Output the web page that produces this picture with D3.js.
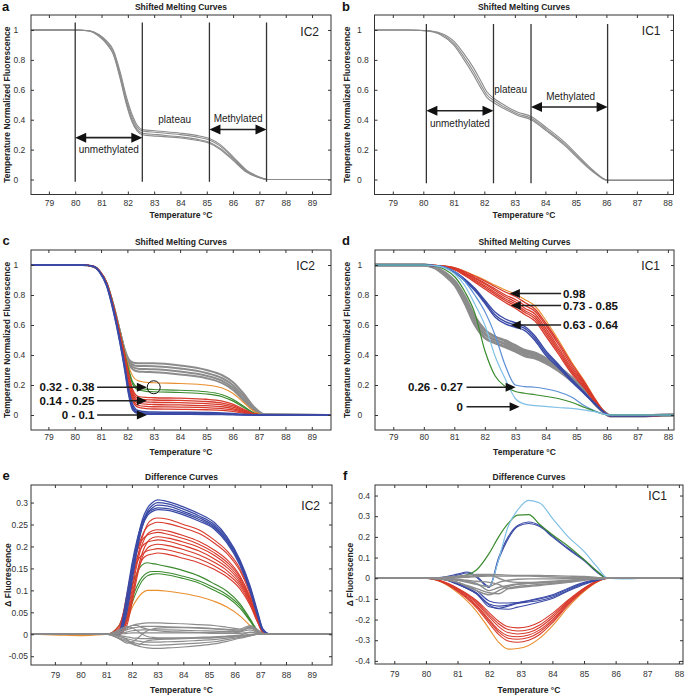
<!DOCTYPE html>
<html>
<head>
<meta charset="utf-8">
<script src="https://cdn.jsdelivr.net/npm/d3@7"></script>
<style>
  body { margin: 0; background: #fff; }
  svg { font-family: "Liberation Sans", Arial, sans-serif; }
</style>
</head>
<body>
<svg id="fig" width="685" height="695"></svg>
<script>
// ---------- tick values ----------
const xTicksIC2 = [79, 80, 81, 82, 83, 84, 85, 86, 87, 88, 89];
const xTicksIC1 = [79, 80, 81, 82, 83, 84, 85, 86, 87, 88];
const yTicksMelt = [0, 0.2, 0.4, 0.6, 0.8, 1];
const yTicksDiffIC2 = [-0.05, 0, 0.05, 0.1, 0.15, 0.2, 0.25, 0.3];
const yTicksDiffIC1 = [-0.4, -0.3, -0.2, -0.1, 0, 0.1, 0.2, 0.3, 0.4];

// ---------- panel a : IC2 reference melting curves ----------
const aTemps = [78.3, 80, 80.5, 80.9, 81.2, 81.45, 81.7, 81.95, 82.15, 82.35, 82.55, 83.1, 84, 84.6, 85.1, 85.5, 86, 86.5, 87.05, 87.3, 89.7];
const aCurve1 = [1, 1, 0.995, 0.966, 0.92, 0.855, 0.71, 0.53, 0.42, 0.35, 0.325, 0.315, 0.30, 0.285, 0.265, 0.225, 0.145, 0.06, 0.012, 0, 0];
const aCurve2 = [1, 1, 0.995, 0.962, 0.91, 0.84, 0.69, 0.51, 0.40, 0.335, 0.31, 0.30, 0.285, 0.27, 0.25, 0.21, 0.135, 0.055, 0.01, 0, 0];
const aCurve3 = [1, 1, 0.996, 0.97, 0.925, 0.865, 0.725, 0.55, 0.44, 0.365, 0.335, 0.325, 0.31, 0.295, 0.275, 0.235, 0.152, 0.065, 0.014, 0, 0];
const aCurve4 = [1, 1, 0.994, 0.958, 0.905, 0.835, 0.68, 0.5, 0.39, 0.325, 0.30, 0.29, 0.278, 0.263, 0.243, 0.203, 0.128, 0.05, 0.009, 0, 0];
const aMarks = [80, 82.55, 85.1, 87.27];

// ---------- panel b : IC1 reference melting curves ----------
const bTemps = [78.4, 79.5, 80.1, 80.55, 81.0, 81.3, 81.65, 81.87, 82.09, 82.3, 82.65, 83.08, 83.53, 84.07, 84.62, 85.17, 85.6, 86.04, 88.2];
const bCurve1 = [1, 1, 0.995, 0.975, 0.91, 0.83, 0.72, 0.64, 0.565, 0.53, 0.485, 0.44, 0.41, 0.33, 0.24, 0.13, 0.05, -0.005, -0.005];
const bCurve2 = [1, 1, 0.996, 0.98, 0.925, 0.85, 0.745, 0.665, 0.585, 0.545, 0.498, 0.452, 0.422, 0.342, 0.252, 0.14, 0.056, -0.004, -0.004];
const bCurve3 = [1, 1, 0.994, 0.97, 0.898, 0.812, 0.698, 0.618, 0.548, 0.515, 0.474, 0.43, 0.4, 0.32, 0.23, 0.122, 0.045, -0.006, -0.006];
const bMarks = [80.1, 82.3, 83.53, 86.04];

// ---------- panel c : IC2 samples ----------
const cTemps = [78.3, 80.3, 80.71, 80.96, 81.21, 81.47, 81.72, 81.91, 82.04, 82.2, 82.4, 82.7, 83, 84, 85, 85.6, 86, 86.4, 86.8, 87.2, 89.7];
const cGray1 = [1, 1, 0.99, 0.955, 0.88, 0.73, 0.555, 0.43, 0.375, 0.35, 0.345, 0.345, 0.345, 0.33, 0.30, 0.265, 0.22, 0.145, 0.055, 0.005, 0];
const cGray2 = [1, 1, 0.99, 0.955, 0.88, 0.73, 0.555, 0.425, 0.365, 0.335, 0.326, 0.326, 0.325, 0.31, 0.28, 0.245, 0.2, 0.127, 0.045, 0.004, 0];
const cGray3 = [1, 1, 0.99, 0.955, 0.88, 0.73, 0.553, 0.42, 0.355, 0.32, 0.308, 0.306, 0.305, 0.29, 0.262, 0.228, 0.183, 0.11, 0.036, 0.003, 0];
const cGray4 = [1, 1, 0.99, 0.955, 0.88, 0.728, 0.55, 0.415, 0.345, 0.305, 0.29, 0.287, 0.285, 0.27, 0.245, 0.212, 0.168, 0.098, 0.03, 0.002, 0];
const cOrange = [1, 1, 0.99, 0.955, 0.88, 0.728, 0.548, 0.41, 0.33, 0.26, 0.228, 0.218, 0.215, 0.21, 0.2, 0.18, 0.145, 0.085, 0.025, 0, 0];
const cGreen1 = [1, 1, 0.99, 0.955, 0.88, 0.726, 0.544, 0.4, 0.31, 0.22, 0.182, 0.172, 0.17, 0.165, 0.155, 0.135, 0.105, 0.06, 0.015, 0, 0];
const cGreen2 = [1, 1, 0.99, 0.955, 0.88, 0.726, 0.542, 0.395, 0.3, 0.205, 0.168, 0.158, 0.155, 0.15, 0.14, 0.122, 0.094, 0.052, 0.012, 0, 0];
const cRed1 = [1, 1, 0.99, 0.955, 0.88, 0.724, 0.54, 0.39, 0.28, 0.17, 0.125, 0.117, 0.115, 0.112, 0.105, 0.092, 0.072, 0.04, 0.009, 0, 0];
const cRed2 = [1, 1, 0.99, 0.955, 0.878, 0.722, 0.535, 0.38, 0.265, 0.155, 0.11, 0.102, 0.1, 0.097, 0.09, 0.079, 0.062, 0.034, 0.007, 0, 0];
const cRed3 = [1, 1, 0.99, 0.955, 0.878, 0.72, 0.53, 0.37, 0.25, 0.14, 0.095, 0.087, 0.085, 0.082, 0.076, 0.067, 0.052, 0.028, 0.006, 0, 0];
const cRed4 = [1, 1, 0.99, 0.954, 0.876, 0.718, 0.525, 0.36, 0.235, 0.125, 0.08, 0.072, 0.07, 0.067, 0.062, 0.055, 0.043, 0.023, 0.005, 0, 0];
const cRed5 = [1, 1, 0.99, 0.954, 0.876, 0.716, 0.52, 0.35, 0.22, 0.11, 0.065, 0.057, 0.055, 0.053, 0.049, 0.043, 0.034, 0.018, 0.004, 0, 0];
const cRed6 = [1, 1, 0.99, 0.953, 0.874, 0.714, 0.515, 0.34, 0.205, 0.095, 0.052, 0.043, 0.04, 0.038, 0.035, 0.031, 0.024, 0.013, 0.003, 0, 0];
const cBlue1 = [1, 1, 0.99, 0.952, 0.87, 0.705, 0.5, 0.32, 0.18, 0.07, 0.03, 0.022, 0.02, 0.018, 0.016, 0.013, 0.009, 0.004, 0.001, 0, 0];
const cBlue2 = [1, 1, 0.99, 0.95, 0.866, 0.698, 0.49, 0.305, 0.16, 0.05, 0.018, 0.013, 0.012, 0.011, 0.01, 0.008, 0.005, 0.002, 0, 0, 0];
const cBlue3 = [1, 1, 0.99, 0.948, 0.862, 0.69, 0.48, 0.29, 0.145, 0.035, 0.01, 0.006, 0.005, 0.005, 0.004, 0.003, 0.002, 0.001, 0, 0, 0];
const cLabels = ["0.32 - 0.38", "0.14 - 0.25", "0 - 0.1"];
const cLabelY = [0.185, 0.095, 0.0];

// ---------- panel d : IC1 samples ----------
const dTemps = [78.4, 79.5, 80.0, 80.35, 80.69, 81.02, 81.35, 81.67, 82.0, 82.34, 82.67, 83.0, 83.31, 83.65, 83.97, 84.4, 84.84, 85.28, 85.6, 85.9, 86.1, 87, 88.2];
const dGray1 = [1, 1, 1, 0.988, 0.948, 0.89, 0.785, 0.655, 0.565, 0.52, 0.495, 0.462, 0.43, 0.413, 0.38, 0.322, 0.25, 0.167, 0.085, 0.022, -0.005, -0.005, 0];
const dGray2 = [1, 1, 1, 0.985, 0.94, 0.878, 0.765, 0.63, 0.54, 0.5, 0.475, 0.443, 0.413, 0.397, 0.366, 0.31, 0.24, 0.16, 0.08, 0.02, -0.005, -0.005, 0];
const dGray3 = [1, 1, 1, 0.982, 0.932, 0.866, 0.745, 0.605, 0.515, 0.48, 0.455, 0.425, 0.395, 0.38, 0.35, 0.298, 0.23, 0.153, 0.076, 0.018, -0.005, -0.005, 0];
const dRed1 = [1, 1, 1, 0.998, 0.992, 0.98, 0.955, 0.925, 0.893, 0.855, 0.82, 0.79, 0.75, 0.705, 0.62, 0.49, 0.345, 0.215, 0.11, 0.025, -0.005, -0.005, 0];
const dRed2 = [1, 1, 1, 0.997, 0.99, 0.976, 0.948, 0.915, 0.88, 0.84, 0.8, 0.77, 0.73, 0.69, 0.605, 0.475, 0.33, 0.205, 0.104, 0.023, -0.005, -0.005, 0];
const dRed3 = [1, 1, 1, 0.997, 0.99, 0.975, 0.944, 0.91, 0.873, 0.83, 0.788, 0.755, 0.712, 0.672, 0.585, 0.455, 0.315, 0.198, 0.1, 0.022, -0.005, -0.005, 0];
const dRed4 = [1, 1, 1, 0.997, 0.988, 0.972, 0.938, 0.902, 0.862, 0.817, 0.775, 0.74, 0.697, 0.655, 0.568, 0.44, 0.302, 0.19, 0.095, 0.02, -0.005, -0.005, 0];
const dRed5 = [1, 1, 1, 0.996, 0.987, 0.97, 0.933, 0.895, 0.852, 0.806, 0.763, 0.727, 0.685, 0.64, 0.552, 0.425, 0.29, 0.182, 0.091, 0.019, -0.005, -0.005, 0];
const dRed6 = [1, 1, 1, 0.996, 0.986, 0.967, 0.928, 0.886, 0.84, 0.793, 0.75, 0.712, 0.67, 0.624, 0.535, 0.41, 0.278, 0.175, 0.087, 0.018, -0.005, -0.005, 0];
const dOrange = [1, 1, 1, 0.998, 0.993, 0.982, 0.958, 0.93, 0.9, 0.865, 0.833, 0.805, 0.77, 0.725, 0.64, 0.505, 0.355, 0.222, 0.113, 0.026, -0.005, -0.005, 0];
const dBlue1 = [1, 1, 1, 0.996, 0.985, 0.955, 0.905, 0.845, 0.765, 0.685, 0.64, 0.615, 0.59, 0.525, 0.435, 0.34, 0.24, 0.148, 0.08, 0.02, -0.005, -0.005, 0];
const dBlue2 = [1, 1, 1, 0.996, 0.984, 0.952, 0.9, 0.838, 0.755, 0.667, 0.622, 0.6, 0.577, 0.51, 0.42, 0.33, 0.232, 0.142, 0.076, 0.019, -0.005, -0.005, 0];
const dBlue3 = [1, 1, 1, 0.995, 0.982, 0.948, 0.894, 0.83, 0.745, 0.652, 0.607, 0.585, 0.563, 0.495, 0.405, 0.318, 0.224, 0.137, 0.073, 0.018, -0.005, -0.005, 0];
const dGreen = [1, 1, 1, 0.995, 0.97, 0.92, 0.82, 0.68, 0.43, 0.26, 0.19, 0.157, 0.145, 0.135, 0.125, 0.11, 0.085, 0.05, 0.025, 0.005, 0, 0, 0];
const dSky = [1, 1, 1, 0.996, 0.98, 0.94, 0.86, 0.74, 0.6, 0.39, 0.24, 0.11, 0.072, 0.062, 0.057, 0.05, 0.044, 0.033, 0.022, 0.007, 0, 0, 0];
const dMidBlue = [1, 1, 1, 0.997, 0.985, 0.955, 0.89, 0.8, 0.69, 0.53, 0.33, 0.2, 0.189, 0.185, 0.175, 0.155, 0.12, 0.06, 0.028, 0.006, 0, 0, 0];
const dLabelsRight = ["0.98", "0.73 - 0.85", "0.63 - 0.64"];
const dLabelsRightY = [0.81, 0.73, 0.6];
const dLabelsRightTip = [82.82, 82.85, 82.85];
const dLabelsLeft = ["0.26 - 0.27", "0"];
const dLabelsLeftY = [0.185, 0.055];
const dLabelsLeftTip = [83.01, 83.14];

// ---------- panel e : IC2 difference curves ----------
const eTemps = [78.1, 79.2, 80, 80.5, 81, 81.5, 81.8, 82.0, 82.2, 82.4, 82.6, 82.8, 83.0, 83.4, 84, 84.6, 85.2, 85.7, 86.2, 86.6, 86.9, 87.1, 87.4, 88, 89.8];
const eBlue1 = [0, 0, 0, 0, 0, 0, 0.078, 0.15, 0.21, 0.26, 0.287, 0.3, 0.306, 0.302, 0.29, 0.275, 0.255, 0.222, 0.17, 0.11, 0.05, 0.012, 0, 0, 0];
const eBlue2 = [0, 0, 0, 0, 0, 0, 0.06, 0.13, 0.2, 0.25, 0.28, 0.294, 0.3, 0.297, 0.285, 0.27, 0.25, 0.218, 0.167, 0.106, 0.046, 0.01, 0, 0, 0];
const eBlue3 = [0, 0, 0, 0, 0, 0, 0.05, 0.12, 0.19, 0.245, 0.275, 0.288, 0.294, 0.292, 0.28, 0.266, 0.246, 0.214, 0.164, 0.104, 0.044, 0.01, 0, 0, 0];
const eBlue4 = [0, 0, 0, 0, 0, 0.005, 0.09, 0.16, 0.215, 0.255, 0.275, 0.284, 0.288, 0.286, 0.276, 0.262, 0.243, 0.212, 0.162, 0.1, 0.042, 0.008, 0, 0, 0];
const eBlue5 = [0, 0, 0, 0, 0, 0, 0.07, 0.14, 0.2, 0.245, 0.27, 0.28, 0.284, 0.282, 0.272, 0.258, 0.24, 0.208, 0.158, 0.098, 0.04, 0.008, 0, 0, 0];
const eRed1 = [0, 0, 0, 0, 0, 0, 0.05, 0.11, 0.17, 0.22, 0.25, 0.262, 0.265, 0.262, 0.25, 0.238, 0.215, 0.19, 0.15, 0.095, 0.04, 0.008, 0, 0, 0];
const eRed2 = [0, 0, 0, 0, 0, 0.01, 0.08, 0.14, 0.19, 0.225, 0.245, 0.252, 0.255, 0.252, 0.242, 0.23, 0.208, 0.184, 0.145, 0.092, 0.038, 0.007, 0, 0, 0];
const eRed3 = [0, 0, 0, 0, 0, 0, 0.04, 0.1, 0.16, 0.205, 0.228, 0.236, 0.238, 0.235, 0.225, 0.212, 0.192, 0.17, 0.134, 0.085, 0.035, 0.006, 0, 0, 0];
const eRed4 = [0, 0, 0, 0, 0, 0.015, 0.09, 0.15, 0.19, 0.215, 0.226, 0.23, 0.232, 0.228, 0.218, 0.205, 0.186, 0.164, 0.13, 0.082, 0.033, 0.006, 0, 0, 0];
const eRed5 = [0, 0, 0, 0, 0, 0, 0.03, 0.08, 0.14, 0.185, 0.21, 0.22, 0.222, 0.219, 0.21, 0.198, 0.18, 0.158, 0.125, 0.079, 0.032, 0.005, 0, 0, 0];
const eRed6 = [0, 0, 0, 0, 0, 0.01, 0.07, 0.13, 0.175, 0.2, 0.21, 0.213, 0.215, 0.212, 0.202, 0.19, 0.172, 0.152, 0.12, 0.076, 0.03, 0.005, 0, 0, 0];
const eRed7 = [0, 0, 0, 0, 0, 0, 0.02, 0.07, 0.13, 0.175, 0.196, 0.203, 0.205, 0.202, 0.193, 0.181, 0.164, 0.145, 0.115, 0.073, 0.029, 0.005, 0, 0, 0];
const eRed8 = [0, 0, 0, 0, 0, 0.02, 0.08, 0.13, 0.165, 0.182, 0.19, 0.193, 0.195, 0.192, 0.183, 0.172, 0.156, 0.138, 0.11, 0.07, 0.028, 0.004, 0, 0, 0];
const eRed9 = [0, 0, 0, 0, 0, 0, 0.03, 0.09, 0.14, 0.17, 0.18, 0.183, 0.185, 0.182, 0.173, 0.163, 0.148, 0.131, 0.104, 0.066, 0.026, 0.004, 0, 0, 0];
const eGreen1 = [0, 0, 0, 0, 0, 0.02, 0.07, 0.11, 0.14, 0.158, 0.163, 0.161, 0.159, 0.154, 0.145, 0.133, 0.115, 0.098, 0.07, 0.035, 0.008, 0, 0, 0, 0];
const eGreen2 = [0, 0, 0, 0, 0, 0.01, 0.04, 0.08, 0.11, 0.13, 0.14, 0.143, 0.143, 0.14, 0.132, 0.122, 0.106, 0.09, 0.065, 0.032, 0.007, 0, 0, 0, 0];
const eGreen3 = [0, 0, 0, 0, 0, 0, 0.03, 0.07, 0.1, 0.122, 0.133, 0.137, 0.138, 0.135, 0.127, 0.117, 0.1, 0.085, 0.06, 0.03, 0.006, 0, 0, 0, 0];
const eOrange = [0, -0.002, -0.003, -0.002, 0, 0.005, 0.03, 0.06, 0.08, 0.094, 0.1, 0.1, 0.1, 0.098, 0.093, 0.086, 0.075, 0.062, 0.042, 0.02, 0.004, 0, 0, 0, 0];
const eGray1 = [0, 0, 0, 0, 0, 0.008, 0.015, 0.02, 0.023, 0.025, 0.026, 0.026, 0.026, 0.025, 0.024, 0.022, 0.02, 0.016, 0.012, 0.02, 0.01, 0.002, 0, 0, 0];
const eGray2 = [0, 0, 0, 0, 0, 0.004, 0.01, 0.014, 0.016, 0.018, 0.018, 0.018, 0.018, 0.017, 0.016, 0.015, 0.013, 0.011, 0.01, 0.015, 0.006, 0.001, 0, 0, 0];
const eGray3 = [0, 0, 0, 0, 0, 0.002, 0.005, 0.008, 0.009, 0.01, 0.01, 0.01, 0.01, 0.01, 0.009, 0.008, 0.007, 0.006, 0.006, 0.01, 0.004, 0, 0, 0, 0];
const eGray4 = [0, 0, 0, 0, 0, 0, 0.002, 0.003, 0.003, 0.003, 0.003, 0.003, 0.003, 0.003, 0.003, 0.003, 0.002, 0.002, 0.002, 0.004, 0.002, 0, 0, 0, 0];
const eGray5 = [0, 0, 0, 0, 0, -0.003, -0.006, -0.008, -0.009, -0.01, -0.01, -0.01, -0.01, -0.01, -0.009, -0.008, -0.007, -0.005, -0.003, 0, 0, 0, 0, 0, 0];
const eGray6 = [0, 0, 0, 0, 0, -0.005, -0.01, -0.013, -0.015, -0.017, -0.018, -0.018, -0.018, -0.017, -0.016, -0.014, -0.012, -0.009, -0.005, -0.002, 0, 0, 0, 0, 0];
const eGray7 = [0, 0, 0, 0, 0, -0.008, -0.014, -0.018, -0.021, -0.023, -0.024, -0.025, -0.025, -0.024, -0.022, -0.02, -0.017, -0.012, -0.007, -0.003, 0, 0, 0, 0, 0];
const eGray8 = [0, 0, 0, 0, 0, -0.01, -0.017, -0.022, -0.026, -0.029, -0.031, -0.032, -0.032, -0.031, -0.029, -0.026, -0.022, -0.016, -0.009, -0.004, 0, 0, 0, 0, 0];
const eGray9 = [0, 0, 0, 0, 0, -0.01, -0.02, -0.018, -0.01, 0, 0.008, 0.012, 0.014, 0.015, 0.015, 0.014, 0.012, 0.01, 0.008, 0.014, 0.006, 0, 0, 0, 0];
const eGray10 = [0, 0, 0, 0, 0, 0.01, 0.018, 0.015, 0.008, 0, -0.005, -0.007, -0.008, -0.008, -0.008, -0.007, -0.006, -0.004, -0.002, 0.005, 0.002, 0, 0, 0, 0];
const eGray11 = [0, 0, 0, 0, 0, 0.005, 0.012, 0.02, 0.02, 0.015, 0.012, 0.01, 0.008, 0.006, 0.005, 0.004, 0.004, 0.003, 0.005, 0.018, 0.008, 0, 0, 0, 0];
const eGray12 = [0, 0, 0, 0, 0, -0.004, -0.012, -0.02, -0.025, -0.02, -0.015, -0.013, -0.012, -0.011, -0.01, -0.009, -0.008, -0.006, -0.004, -0.002, 0, 0, 0, 0, 0];

// ---------- panel f : IC1 difference curves ----------
const fTemps = [78.4, 79.5, 80.0, 80.5, 81.0, 81.3, 81.6, 82.0, 82.3, 82.6, 82.9, 83.25, 83.6, 84.0, 84.5, 85.0, 85.4, 85.75, 86.2, 87, 88.13];
const fSky = [0, 0, 0, -0.002, -0.008, -0.015, -0.03, -0.04, 0.09, 0.25, 0.33, 0.377, 0.364, 0.29, 0.2, 0.13, 0.057, 0, -0.003, 0, 0];
const fGreen = [0, 0, 0, 0, 0.005, 0.016, 0.04, 0.12, 0.2, 0.265, 0.305, 0.308, 0.26, 0.21, 0.155, 0.09, 0.035, 0, 0, 0, 0];
const fBlueUp1 = [0, 0, 0, 0.005, 0.02, 0.03, 0.01, -0.04, 0.1, 0.2, 0.255, 0.272, 0.255, 0.205, 0.145, 0.09, 0.035, 0, 0, 0, 0];
const fBlueUp2 = [0, 0, 0, 0.003, 0.015, 0.025, 0.005, -0.045, 0.09, 0.19, 0.25, 0.265, 0.25, 0.2, 0.14, 0.085, 0.03, 0, 0, 0, 0];
const fBlueLow1 = [0, 0, 0, -0.005, -0.03, -0.05, -0.075, -0.138, -0.145, -0.135, -0.122, -0.115, -0.108, -0.092, -0.058, -0.027, -0.01, 0, 0, 0, 0];
const fBlueLow2 = [0, 0, 0, -0.003, -0.025, -0.045, -0.07, -0.125, -0.135, -0.13, -0.12, -0.11, -0.1, -0.085, -0.052, -0.024, -0.008, 0, 0, 0, 0];
const fBlueLow3 = [0, 0, 0, -0.004, -0.02, -0.04, -0.06, -0.11, -0.12, -0.12, -0.118, -0.108, -0.096, -0.08, -0.048, -0.02, -0.007, 0, 0, 0, 0];
const fBlueLow4 = [0, 0, 0, -0.005, -0.028, -0.05, -0.075, -0.13, -0.148, -0.15, -0.14, -0.128, -0.115, -0.098, -0.062, -0.03, -0.011, 0, 0, 0, 0];
const fRed1 = [0, 0, 0, -0.014, -0.048, -0.075, -0.108, -0.166, -0.208, -0.235, -0.24, -0.234, -0.212, -0.17, -0.105, -0.048, -0.014, 0, 0, 0, 0];
const fRed2 = [0, 0, 0, -0.015, -0.05, -0.08, -0.115, -0.177, -0.22, -0.248, -0.255, -0.249, -0.226, -0.18, -0.11, -0.05, -0.015, 0, 0, 0, 0];
const fRed3 = [0, 0, 0, -0.016, -0.053, -0.084, -0.122, -0.187, -0.234, -0.263, -0.27, -0.263, -0.238, -0.19, -0.116, -0.053, -0.015, 0, 0, 0, 0];
const fRed4 = [0, 0, 0, -0.016, -0.057, -0.09, -0.13, -0.2, -0.25, -0.278, -0.283, -0.275, -0.25, -0.2, -0.12, -0.056, -0.016, 0, 0, 0, 0];
const fRed5 = [0, 0, 0, -0.017, -0.06, -0.094, -0.136, -0.208, -0.26, -0.29, -0.295, -0.287, -0.26, -0.208, -0.125, -0.058, -0.017, 0, 0, 0, 0];
const fRed6 = [0, 0, 0, -0.018, -0.063, -0.099, -0.143, -0.218, -0.272, -0.304, -0.31, -0.3, -0.272, -0.216, -0.13, -0.06, -0.018, 0, 0, 0, 0];
const fOrange = [0, 0, 0, -0.02, -0.07, -0.11, -0.16, -0.245, -0.31, -0.343, -0.34, -0.325, -0.29, -0.23, -0.14, -0.065, -0.02, 0, 0, 0, 0];
const fGray1 = [0, 0, 0, 0.003, 0.01, 0.015, 0.018, 0.018, 0.017, 0.015, 0.014, 0.014, 0.013, 0.012, 0.01, 0.008, 0.004, 0, 0, 0, 0];
const fGray2 = [0, 0, 0, 0, 0.002, 0.005, 0.008, 0.01, 0.01, 0.01, 0.01, 0.01, 0.008, 0.006, 0.004, 0.003, 0.001, 0, 0, 0, 0];
const fGray3 = [0, 0, 0, -0.003, -0.01, -0.02, -0.03, -0.04, -0.02, -0.01, -0.005, -0.003, -0.003, -0.003, -0.002, -0.001, 0, 0, 0, 0, 0];
const fGray4 = [0, 0, 0, -0.005, -0.02, -0.04, -0.06, -0.08, -0.06, -0.04, -0.03, -0.025, -0.022, -0.018, -0.012, -0.006, -0.002, 0, 0, 0, 0];
const fGray5 = [0, 0, 0, -0.005, -0.02, -0.035, -0.05, -0.07, -0.075, -0.05, -0.04, -0.035, -0.03, -0.025, -0.017, -0.008, -0.003, 0, 0, 0, 0];
const fGray6 = [0, 0, 0, -0.002, -0.008, -0.015, -0.025, -0.06, -0.045, -0.035, -0.028, -0.025, -0.022, -0.018, -0.012, -0.006, -0.002, 0, 0, 0, 0];
const fGray7 = [0, 0, 0, 0.002, 0.005, 0.008, 0.012, 0.015, 0, -0.015, -0.02, -0.02, -0.018, -0.015, -0.01, -0.005, -0.002, 0, 0, 0, 0];
const fGray8 = [0, 0, 0, 0, -0.005, -0.01, -0.015, -0.02, -0.03, -0.05, -0.045, -0.04, -0.035, -0.028, -0.02, -0.01, -0.003, 0, 0, 0, 0];

const COL = {
  gray: '#8c8c8c', blue: '#3a4aa6', red: '#d83a2c', green: '#3b8b2e',
  orange: '#e98f2f', sky: '#80c0e6', midBlue: '#5b8fd6'
};

const svg = d3.select('#fig');
const fmt = v => String(+v.toFixed(2));

function drawPanel(p) {
  const x = d3.scaleLinear().domain(p.xDomain).range([p.x0, p.x1]);
  const y = d3.scaleLinear().domain(p.yDomain).range([p.y1, p.y0]);
  const g = svg.append('g');

  g.append('clipPath').attr('id', 'clip-' + p.id)
    .append('rect').attr('x', p.x0).attr('y', p.y0)
    .attr('width', p.x1 - p.x0).attr('height', p.y1 - p.y0);

  const plot = g.append('g').attr('clip-path', `url(#clip-${p.id})`);
  const line = d3.line().x(d => x(d[0])).y(d => y(d[1])).curve(d3.curveMonotoneX);

  p.groups.forEach(grp => {
    grp.curves.forEach(vals => {
      plot.append('path')
        .datum(p.temps.map((t, i) => [t, vals[i]]))
        .attr('d', line)
        .attr('fill', 'none')
        .attr('stroke', grp.color)
        .attr('stroke-width', grp.width || 1)
        .attr('stroke-linejoin', 'round');
    });
  });

  // axes - ticks point inward on all four sides
  g.append('g').attr('transform', `translate(0,${p.y1})`)
    .call(d3.axisBottom(x).tickValues(p.xTicks).tickSize(-3).tickPadding(p.xPad).tickFormat(d3.format('d')));
  g.append('g').attr('transform', `translate(0,${p.y0})`)
    .call(d3.axisTop(x).tickValues(p.xTicks).tickSize(-3).tickFormat(''));
  const axL = g.append('g').attr('transform', `translate(${p.x0},0)`)
    .call(d3.axisLeft(y).tickValues(p.yTicks).tickSize(-3).tickPadding(p.yPad).tickFormat(fmt));
  g.append('g').attr('transform', `translate(${p.x1},0)`)
    .call(d3.axisRight(y).tickValues(p.yTicks).tickSize(-3).tickFormat(''));

  g.selectAll('.domain').remove();
  g.selectAll('.tick line').attr('stroke', '#333');
  g.selectAll('.tick text').attr('font-size', 8.5).attr('fill', '#333')
    .attr('font-family', '"Liberation Sans", Arial, sans-serif');
  if (p.yAnchorStart) {
    axL.selectAll('.tick text').attr('text-anchor', 'start').attr('x', -p.yPad);
  }

  g.append('rect').attr('x', p.x0).attr('y', p.y0)
    .attr('width', p.x1 - p.x0).attr('height', p.y1 - p.y0)
    .attr('fill', 'none').attr('stroke', '#333').attr('stroke-width', 1);

  // titles
  g.append('text').attr('x', (p.x0 + p.x1) / 2).attr('y', p.y0 - 5.5)
    .attr('text-anchor', 'middle').attr('font-size', 8.5).attr('font-weight', 'bold')
    .attr('fill', '#222').text(p.title);
  g.append('text').attr('x', (p.x0 + p.x1) / 2).attr('y', p.y1 + p.xTitleOff)
    .attr('text-anchor', 'middle').attr('font-size', 8.5).attr('font-weight', 'bold')
    .attr('fill', '#222').text('Temperature °C');
  g.append('text')
    .attr('transform', `translate(${p.yTitleX},${(p.y0 + p.y1) / 2}) rotate(-90)`)
    .attr('text-anchor', 'middle').attr('dy', '0.35em')
    .attr('font-size', 8.5).attr('font-weight', 'bold').attr('fill', '#222')
    .text(p.yTitle);
  g.append('text').attr('x', p.letterX).attr('y', p.letterY)
    .attr('font-size', 13).attr('font-weight', 'bold').attr('fill', '#111').text(p.id);
  g.append('text').attr('x', p.x1 - p.icRight).attr('y', p.icY)
    .attr('text-anchor', 'end').attr('font-size', 12).attr('fill', '#222').text(p.ic);

  return { g, x, y };
}

function head(g, xt, yt, dir, len, half) {
  g.append('path')
    .attr('d', `M${xt},${yt}L${xt - dir * len},${yt - half}L${xt - dir * len},${yt + half}Z`)
    .attr('fill', '#111');
}

function doubleArrow(g, xa, xb, yy) {
  g.append('line').attr('x1', xa + 8).attr('x2', xb - 8).attr('y1', yy).attr('y2', yy)
    .attr('stroke', '#222').attr('stroke-width', 1.6);
  head(g, xa, yy, -1, 11, 5);
  head(g, xb, yy, 1, 11, 5);
}

function pointer(g, xFrom, xTip, yy) {
  const dir = xTip > xFrom ? 1 : -1;
  g.append('line').attr('x1', xFrom).attr('x2', xTip - dir * 8).attr('y1', yy).attr('y2', yy)
    .attr('stroke', '#222').attr('stroke-width', 1.4);
  head(g, xTip, yy, dir, 10, 4.5);
}

function annotateRef(P, marks, top, bottom, unm, met, plateau) {
  const { g, x, y } = P;
  marks.forEach(m => {
    g.append('line').attr('x1', x(m)).attr('x2', x(m)).attr('y1', y(top)).attr('y2', y(bottom))
      .attr('stroke', '#333').attr('stroke-width', 1.3);
  });
  doubleArrow(g, x(marks[0]), x(marks[1]), y(unm.arrowY));
  doubleArrow(g, x(marks[2]), x(marks[3]), y(met.arrowY));
  const txt = (tx, ty, s) => g.append('text').attr('x', tx).attr('y', ty)
    .attr('text-anchor', 'middle').attr('dy', '0.35em').attr('font-size', 10)
    .attr('fill', '#222').text(s);
  txt((x(marks[0]) + x(marks[1])) / 2, y(unm.textY), 'unmethylated');
  txt(x(met.textX), y(met.textY), 'Methylated');
  txt(x(plateau[0]), y(plateau[1]), 'plateau');
}

// ---------- panel a ----------
const PA = drawPanel({
  id: 'a', title: 'Shifted Melting Curves', yTitle: 'Temperature Normalized Fluorescence', ic: 'IC2',
  x0: 31, x1: 331, y0: 15, y1: 194.5, xDomain: [78.32, 89.72], yDomain: [-0.1, 1.1],
  xTicks: xTicksIC2, yTicks: yTicksMelt, xPad: 5, yPad: 17.5, yAnchorStart: true,
  xTitleOff: 23, yTitleX: 7.5, letterX: 2, letterY: 11, icRight: 12, icY: 36,
  temps: aTemps,
  groups: [{ color: COL.gray, width: 1.1, curves: [aCurve1, aCurve2, aCurve3, aCurve4] }]
});
annotateRef(PA, aMarks, 1.05, -0.015, { arrowY: 0.28, textY: 0.2 }, { arrowY: 0.335, textX: 86.19, textY: 0.41 }, [83.78, 0.4]);

// ---------- panel b ----------
const PB = drawPanel({
  id: 'b', title: 'Shifted Melting Curves', yTitle: 'Temperature Normalized Fluorescence', ic: 'IC1',
  x0: 374.5, x1: 673.5, y0: 15, y1: 194.5, xDomain: [78.4, 88.2], yDomain: [-0.1, 1.1],
  xTicks: xTicksIC1, yTicks: yTicksMelt, xPad: 5, yPad: 17.5, yAnchorStart: true,
  xTitleOff: 23, yTitleX: 347, letterX: 342, letterY: 11, icRight: 13, icY: 35,
  temps: bTemps,
  groups: [{ color: COL.gray, width: 1.1, curves: [bCurve1, bCurve2, bCurve3] }]
});
annotateRef(PB, bMarks, 1.04, -0.025, { arrowY: 0.46, textY: 0.375 }, { arrowY: 0.485, textX: 84.83, textY: 0.555 }, [82.86, 0.6]);

// ---------- panel c ----------
const PC = drawPanel({
  id: 'c', title: 'Shifted Melting Curves', yTitle: 'Temperature Normalized Fluorescence', ic: 'IC2',
  x0: 31, x1: 331, y0: 250, y1: 430, xDomain: [78.34, 89.73], yDomain: [-0.1, 1.1],
  xTicks: xTicksIC2, yTicks: yTicksMelt, xPad: 3.5, yPad: 17.5, yAnchorStart: true,
  xTitleOff: 25, yTitleX: 7.5, letterX: 2.5, letterY: 245, icRight: 16, icY: 270,
  temps: cTemps,
  groups: [
    { color: COL.gray, width: 2, curves: [cGray1, cGray2, cGray3, cGray4] },
    { color: COL.orange, width: 1.1, curves: [cOrange] },
    { color: COL.green, width: 1.2, curves: [cGreen1, cGreen2] },
    { color: COL.red, width: 1.3, curves: [cRed1, cRed2, cRed3, cRed4, cRed5, cRed6] },
    { color: COL.blue, width: 1.6, curves: [cBlue1, cBlue2, cBlue3] }
  ]
});
cLabels.forEach((s, i) => {
  const yy = PC.y(cLabelY[i]);
  PC.g.append('text').attr('x', PC.x(80.75)).attr('y', yy).attr('dy', '0.35em')
    .attr('text-anchor', 'end').attr('font-size', 11.5).attr('font-weight', 'bold')
    .attr('fill', '#111').text(s);
  pointer(PC.g, PC.x(80.85), PC.x(82.74), yy);
});
PC.g.append('circle').attr('cx', PC.x(83.0)).attr('cy', PC.y(cLabelY[0])).attr('r', 6.5)
  .attr('fill', 'none').attr('stroke', '#111').attr('stroke-width', 1);

// ---------- panel d ----------
const PD = drawPanel({
  id: 'd', title: 'Shifted Melting Curves', yTitle: 'Temperature Normalized Fluorescence', ic: 'IC1',
  x0: 375, x1: 674, y0: 250, y1: 430, xDomain: [78.4, 88.2], yDomain: [-0.1, 1.1],
  xTicks: xTicksIC1, yTicks: yTicksMelt, xPad: 4, yPad: 17.5, yAnchorStart: true,
  xTitleOff: 25, yTitleX: 347, letterX: 342, letterY: 245, icRight: 14, icY: 270,
  temps: dTemps,
  groups: [
    { color: COL.gray, width: 3, curves: [dGray1, dGray2, dGray3] },
    { color: COL.orange, width: 1.1, curves: [dOrange] },
    { color: COL.red, width: 1.3, curves: [dRed1, dRed2, dRed3, dRed4, dRed5, dRed6] },
    { color: COL.blue, width: 1.4, curves: [dBlue1, dBlue2, dBlue3] },
    { color: COL.midBlue, width: 1.2, curves: [dMidBlue] },
    { color: COL.green, width: 1.2, curves: [dGreen] },
    { color: COL.sky, width: 1.2, curves: [dSky] }
  ]
});
dLabelsRight.forEach((s, i) => {
  const yy = PD.y(dLabelsRightY[i]);
  PD.g.append('text').attr('x', PD.x(84.56)).attr('y', yy).attr('dy', '0.35em')
    .attr('font-size', 11.5).attr('font-weight', 'bold').attr('fill', '#111').text(s);
  pointer(PD.g, PD.x(84.5), PD.x(dLabelsRightTip[i]), yy);
});
dLabelsLeft.forEach((s, i) => {
  const yy = PD.y(dLabelsLeftY[i]);
  PD.g.append('text').attr('x', PD.x(81.28)).attr('y', yy).attr('dy', '0.35em')
    .attr('text-anchor', 'end').attr('font-size', 11.5).attr('font-weight', 'bold')
    .attr('fill', '#111').text(s);
  pointer(PD.g, PD.x(81.4), PD.x(dLabelsLeftTip[i]), yy);
});

// ---------- panel e ----------
drawPanel({
  id: 'e', title: 'Difference Curves', yTitle: 'Δ Fluorescence', ic: 'IC2',
  x0: 31, x1: 332, y0: 485, y1: 665, xDomain: [78.07, 89.79], yDomain: [-0.07, 0.34],
  xTicks: xTicksIC2, yTicks: yTicksDiffIC2, xPad: 7, yPad: 3,
  xTitleOff: 28, yTitleX: 8.5, letterX: 2.5, letterY: 480, icRight: 12, icY: 510,
  temps: eTemps,
  groups: [
    { color: COL.orange, width: 1.1, curves: [eOrange] },
    { color: COL.green, width: 1.1, curves: [eGreen1, eGreen2, eGreen3] },
    { color: COL.red, width: 1.1, curves: [eRed1, eRed2, eRed3, eRed4, eRed5, eRed6, eRed7, eRed8, eRed9] },
    { color: COL.blue, width: 1.3, curves: [eBlue1, eBlue2, eBlue3, eBlue4, eBlue5] },
    { color: COL.gray, width: 1.2, curves: [eGray1, eGray2, eGray3, eGray4, eGray5, eGray6, eGray7, eGray8, eGray9, eGray10, eGray11, eGray12] }
  ]
});

// ---------- panel f ----------
drawPanel({
  id: 'f', title: 'Difference Curves', yTitle: 'Δ Fluorescence', ic: 'IC1',
  x0: 375, x1: 683, y0: 485, y1: 664, xDomain: [78.39, 88.13], yDomain: [-0.415, 0.451],
  xTicks: xTicksIC1, yTicks: yTicksDiffIC1, xPad: 7, yPad: 5,
  xTitleOff: 28.5, yTitleX: 350, letterX: 343, letterY: 480, icRight: 16, icY: 500,
  temps: fTemps,
  groups: [
    { color: COL.orange, width: 1.1, curves: [fOrange] },
    { color: COL.red, width: 1.1, curves: [fRed1, fRed2, fRed3, fRed4, fRed5, fRed6] },
    { color: COL.blue, width: 1.1, curves: [fBlueLow1, fBlueLow2, fBlueLow3, fBlueLow4, fBlueUp1, fBlueUp2] },
    { color: COL.green, width: 1.2, curves: [fGreen] },
    { color: COL.sky, width: 1.2, curves: [fSky] },
    { color: COL.gray, width: 1.4, curves: [fGray1, fGray2, fGray3, fGray4, fGray5, fGray6, fGray7, fGray8] }
  ]
});
</script>
</body>
</html>
